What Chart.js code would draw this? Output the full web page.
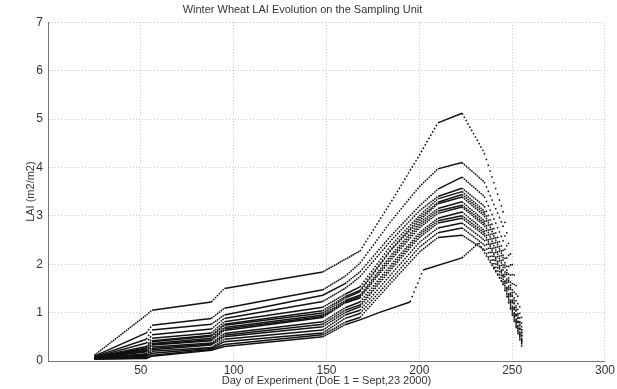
<!DOCTYPE html>
<html>
<head>
<meta charset="utf-8">
<script src="https://cdn.jsdelivr.net/npm/chart.js@4.4.1/dist/chart.umd.min.js"></script>
<style>
  html, body { margin: 0; padding: 0; background: #fff; }
</style>
</head>
<body>
<canvas id="lai" width="617" height="389"></canvas>
<script>
// Day of experiment where each curve changes slope
var days = [25, 53, 56, 88, 95, 148, 160, 168, 185, 200, 210, 223, 235, 245, 256];

// LAI (m2/m2), one array per sampling point
var lai01 = [0.12, 0.95, 1.05, 1.22, 1.50, 1.84, 2.10, 2.27, 3.30, 4.25, 4.92, 5.12, 4.30, 3.10, 0.70];
var lai02 = [0.10, 0.58, 0.74, 0.88, 1.09, 1.47, 1.75, 2.02, 2.90, 3.60, 3.97, 4.10, 3.70, 2.80, 0.60];
var lai03 = [0.09, 0.45, 0.64, 0.76, 0.95, 1.36, 1.60, 1.84, 2.60, 3.20, 3.55, 3.80, 3.40, 2.50, 0.55];
var lai04 = [0.08, 0.37, 0.54, 0.66, 0.88, 1.23, 1.50, 1.74, 2.50, 3.10, 3.40, 3.57, 3.20, 2.30, 0.50];
var lai05 = [0.08, 0.30, 0.47, 0.58, 0.81, 1.11, 1.38, 1.53, 2.40, 3.00, 3.35, 3.50, 3.10, 2.20, 0.50];
var lai06 = [0.07, 0.27, 0.42, 0.53, 0.76, 1.04, 1.33, 1.46, 2.32, 2.95, 3.28, 3.44, 3.05, 2.15, 0.45];
var lai07 = [0.07, 0.25, 0.40, 0.51, 0.74, 0.99, 1.30, 1.43, 2.30, 2.90, 3.25, 3.39, 3.00, 2.10, 0.45];
var lai08 = [0.07, 0.22, 0.36, 0.47, 0.69, 0.95, 1.25, 1.36, 2.20, 2.85, 3.15, 3.29, 2.90, 2.00, 0.40];
var lai09 = [0.06, 0.20, 0.34, 0.44, 0.66, 0.92, 1.22, 1.33, 2.15, 2.80, 3.10, 3.22, 2.85, 1.95, 0.40];
var lai10 = [0.06, 0.19, 0.33, 0.42, 0.63, 0.90, 1.20, 1.30, 2.10, 2.75, 3.05, 3.18, 2.80, 1.90, 0.40];
var lai11 = [0.06, 0.15, 0.29, 0.37, 0.57, 0.81, 1.10, 1.22, 2.00, 2.65, 2.95, 3.08, 2.70, 1.80, 0.35];
var lai12 = [0.05, 0.13, 0.26, 0.35, 0.53, 0.76, 1.05, 1.16, 1.95, 2.60, 2.90, 3.00, 2.65, 1.78, 0.33];
var lai13 = [0.05, 0.12, 0.23, 0.33, 0.50, 0.71, 1.00, 1.12, 1.90, 2.55, 2.85, 2.95, 2.60, 1.75, 0.30];
var lai14 = [0.05, 0.08, 0.20, 0.28, 0.45, 0.64, 0.95, 1.05, 1.80, 2.45, 2.75, 2.85, 2.50, 1.70, 0.30];
var lai15 = [0.04, 0.10, 0.16, 0.26, 0.40, 0.58, 0.88, 0.98, 1.70, 2.35, 2.65, 2.75, 2.40, 1.65, 0.28];
var lai16 = [0.04, 0.06, 0.12, 0.24, 0.34, 0.54, 0.80, 0.90, 1.62, 2.25, 2.55, 2.60, 2.30, 1.60, 0.25];

// the lowest curve peaks later and has its own turning days
var daysLow = [25, 53, 56, 88, 95, 148, 160, 168, 179, 195, 202, 223, 232, 245, 256];
var laiLow  = [0.04, 0.05, 0.10, 0.22, 0.30, 0.50, 0.75, 0.85, 1.01, 1.22, 1.88, 2.13, 2.44, 1.60, 0.20];

var xTicks = [50, 100, 150, 200, 250, 300];
var yTicks = [0, 1, 2, 3, 4, 5, 6, 7];

var curves = [lai01, lai02, lai03, lai04, lai05, lai06, lai07, lai08,
              lai09, lai10, lai11, lai12, lai13, lai14, lai15, lai16];

function toPoints(xs, ys) {
    return xs.map(function (d, i) { return {x: d, y: ys[i]}; });
}

var datasets = curves.map(function (vals) {
    return {data: toPoints(days, vals)};
});
datasets.push({data: toPoints(daysLow, laiLow)});

// The original plots one mark per day; on steep stretches the marks
// separate, so the gap grows with the pixel distance between two days.
function dailyDash(ctx) {
    var pts = datasets[ctx.datasetIndex].data;
    var nDays = pts[ctx.p1DataIndex].x - pts[ctx.p0DataIndex].x;
    if (!nDays) {
        return undefined;
    }
    var dx = (ctx.p1.x - ctx.p0.x) / nDays;
    var dy = (ctx.p1.y - ctx.p0.y) / nDays;
    var gap = Math.sqrt(dx * dx + dy * dy) - 1.6;
    if (gap < 0.5) {
        return undefined;
    }
    return [1.6, gap];
}

datasets.forEach(function (ds) {
    ds.borderColor = '#111';
    ds.borderWidth = 1.5;
    ds.pointRadius = 0;
    ds.tension = 0;
    ds.fill = false;
    ds.segment = {borderDash: dailyDash};
});

var font = 'Liberation Sans, Arial, sans-serif';

new Chart(document.getElementById('lai'), {
    type: 'line',
    data: {datasets: datasets},
    options: {
        responsive: false,
        animation: false,
        devicePixelRatio: 1,
        layout: {padding: {left: 0, right: 12, top: 0, bottom: 0}},
        plugins: {
            legend: {display: false},
            tooltip: {enabled: false},
            title: {
                display: true,
                text: 'Winter Wheat LAI Evolution on the Sampling Unit',
                color: '#333',
                font: {family: font, size: 11, weight: 'normal'},
                padding: {top: 3, bottom: 6}
            }
        },
        scales: {
            x: {
                type: 'linear',
                min: 0,
                max: 300,
                afterBuildTicks: function (scale) {
                    scale.ticks = [{value: 0}].concat(xTicks.map(function (v) { return {value: v}; }));
                },
                afterFit: function (scale) { scale.height = 28; },
                ticks: {
                    color: '#333',
                    font: {family: font, size: 12},
                    padding: 2,
                    maxRotation: 0,
                    callback: function (v) { return v === 0 ? '' : v; }
                },
                grid: {color: '#c8c8c8', drawTicks: false},
                border: {display: true, color: '#777', width: 1, dash: [1, 2]},
                title: {
                    display: true,
                    text: 'Day of Experiment (DoE 1 = Sept,23 2000)',
                    color: '#333',
                    font: {family: font, size: 11},
                    padding: {top: 0, bottom: 1}
                }
            },
            y: {
                min: 0,
                max: 7,
                afterBuildTicks: function (scale) {
                    scale.ticks = yTicks.map(function (v) { return {value: v}; });
                },
                afterFit: function (scale) { scale.width = 48; },
                ticks: {
                    color: '#333',
                    font: {family: font, size: 12},
                    padding: 5
                },
                grid: {color: '#c8c8c8', drawTicks: false},
                border: {display: true, color: '#777', width: 1, dash: [1, 2]},
                title: {
                    display: true,
                    text: 'LAI (m2/m2)',
                    color: '#333',
                    font: {family: font, size: 11},
                    padding: {top: 24, bottom: 0}
                }
            }
        }
    }
});
</script>
</body>
</html>
